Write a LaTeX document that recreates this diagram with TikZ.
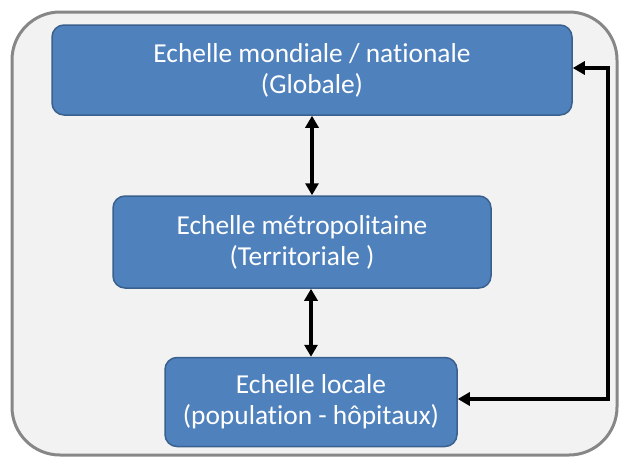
\documentclass[tikz,border=0pt]{standalone}
\usepackage{fontspec}
\setmainfont[Ligatures=NoCommon]{Carlito}
\usepackage{tikz}
\usetikzlibrary{
    arrows.meta,
    positioning
}
\usepackage{xcolor}
\definecolor{boxblue}{RGB}{79,129,189}
\definecolor{boxedge}{RGB}{58,96,142}
\definecolor{panelgray}{RGB}{242,242,242}
\definecolor{paneledge}{RGB}{135,135,135}

\begin{document}
\begin{tikzpicture}[
        x=1pt,
        y=-1pt,
        >={Triangle[length=12pt,width=13pt]},
        scalebox/.style={
            rectangle,
            draw=boxedge,
            line width=1.5pt,
            fill=boxblue,
            rounded corners=12pt,
            align=center,
            text=white,
            inner sep=0pt,
            font=\fontsize{27.4}{31}\selectfont
        },
        link/.style={
            <->,
            line width=3.5pt
        }
    ]

    \useasboundingbox (0,0) rectangle (621,461);
    \draw[paneledge, fill=panelgray, line width=3pt, rounded corners=48pt]
        (12,12) rectangle (617,455);

    \node[scalebox, minimum width=520pt, minimum height=90pt] (global) at (312,70)
        {Echelle mondiale / nationale\\(Globale)};
    \node[scalebox, minimum width=378pt, minimum height=92pt] (metro) at (302,242)
        {Echelle métropolitaine\\(Territoriale )};
    \node[scalebox, minimum width=292pt, minimum height=89pt] (local) at (311,402)
        {Echelle locale\\(population - hôpitaux)};
    \coordinate (loop) at (608,0);

    \draw[link] (global.south) -- (global.south |- metro.north);
    \draw[link] (local.north) -- (local.north |- metro.south);
    \draw[link] ([yshift=2pt]global.east) -- ([yshift=2pt]global.east -| loop)
        -- ([yshift=3pt]local.east -| loop) -- ([yshift=3pt]local.east);

\end{tikzpicture}
\end{document}
